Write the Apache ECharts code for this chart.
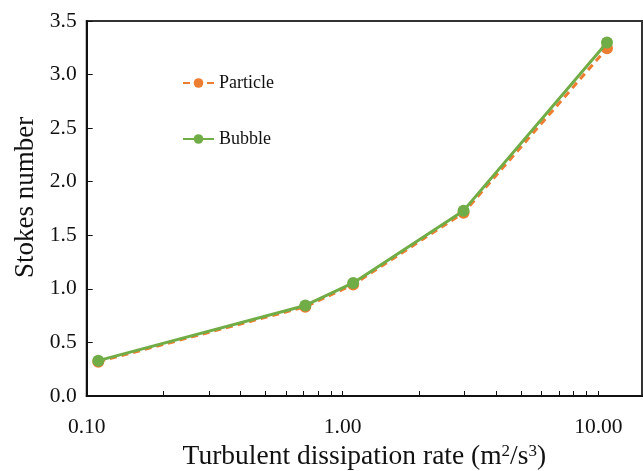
<!DOCTYPE html>
<html>
<head>
<meta charset="utf-8">
<script src="https://cdn.jsdelivr.net/npm/echarts@6/dist/echarts.min.js"></script>
<style>
html,body{margin:0;padding:0;background:#fff;}
#c{width:643px;height:471px;}
</style>
</head>
<body>
<div id="c"></div>
<script>
// Data
const dissipationRate = [0.111, 0.715, 1.10, 2.97, 10.8];
const particleStokes = [0.32, 0.833, 1.04, 1.71, 3.245];
const bubbleStokes = [0.33, 0.845, 1.055, 1.73, 3.30];
const seriesNames = ['Particle', 'Bubble'];
const xTickValues = [0.1, 0.2, 0.3, 0.4, 0.5, 0.6, 0.7, 0.8, 0.9, 1, 2, 3, 4, 5, 6, 7, 8, 9, 10];

const font = '"Liberation Serif", "Times New Roman", serif';
const chart = echarts.init(document.getElementById('c'), null, {renderer: 'canvas'});

const toPairs = (xs, ys) => xs.map((x, i) => [x, ys[i]]);

chart.setOption({
  backgroundColor: '#ffffff',
  animation: false,
  grid: {
    left: 86.7, right: 1, top: 21, bottom: 75,
    containLabel: false,
    outerBoundsMode: 'none',
    show: true, borderColor: '#333333', borderWidth: 2, backgroundColor: 'transparent'
  },
  legend: {
    data: seriesNames,
    orient: 'vertical',
    left: 177,
    top: 69,
    itemWidth: 31,
    itemHeight: 12,
    itemGap: 38,
    textStyle: {fontFamily: font, fontSize: 18, color: '#111'}
  },
  xAxis: {
    type: 'log',
    logBase: 10,
    min: 0.1,
    max: 14.8,
    name: 'Turbulent dissipation rate (m{sup|2}/s{sup|3})',
    nameLocation: 'middle',
    nameGap: 44,
    nameTextStyle: {
      fontFamily: font, fontSize: 27.5, color: '#111',
      rich: {sup: {fontFamily: font, fontSize: 17, color: '#111', verticalAlign: 'top', padding: [0, 0, 11, 0]}}
    },
    axisLine: {show: true, lineStyle: {color: '#111', width: 2}},
    axisTick: {show: true, inside: true, length: 5, customValues: xTickValues, lineStyle: {color: '#111', width: 1}},
    splitLine: {show: false},
    axisLabel: {
      fontFamily: font, fontSize: 21.5, color: '#111', margin: 20,
      formatter: v => Number(v).toFixed(2)
    }
  },
  yAxis: {
    type: 'value',
    min: 0,
    max: 3.5,
    interval: 0.5,
    name: 'Stokes number',
    nameLocation: 'middle',
    nameGap: 46,
    nameTextStyle: {fontFamily: font, fontSize: 27, color: '#111', padding: [0, 0, 0, 22]},
    axisLine: {show: true, lineStyle: {color: '#111', width: 2}},
    axisTick: {show: true, inside: true, length: 6, lineStyle: {color: '#111', width: 1}},
    splitLine: {show: false},
    axisLabel: {
      fontFamily: font, fontSize: 21.5, color: '#111', margin: 10,
      formatter: v => Number(v).toFixed(1)
    }
  },
  series: [
    {
      name: seriesNames[0],
      type: 'line',
      data: toPairs(dissipationRate, particleStokes),
      symbol: 'circle',
      symbolSize: 12,
      lineStyle: {color: '#ED7D31', width: 3, type: [7, 5]},
      itemStyle: {color: '#ED7D31'},
      z: 3
    },
    {
      name: seriesNames[1],
      type: 'line',
      data: toPairs(dissipationRate, bubbleStokes),
      symbol: 'circle',
      symbolSize: 12,
      lineStyle: {color: '#70AD47', width: 3},
      itemStyle: {color: '#70AD47'},
      z: 4
    }
  ]
});
</script>
</body>
</html>
